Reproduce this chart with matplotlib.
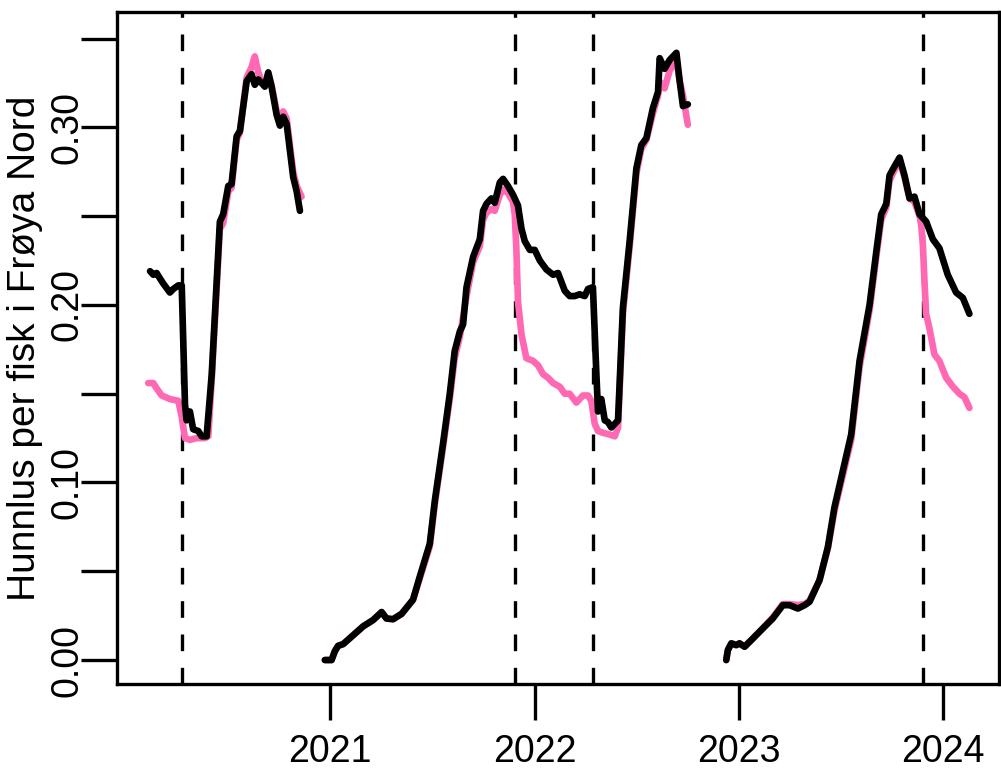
import matplotlib
matplotlib.use("Agg")
import matplotlib.pyplot as plt

plt.rcParams["font.family"] = ["Liberation Sans", "DejaVu Sans"]

# black series (decimal year, females per fish)
blk1_x = [2020.117, 2020.133, 2020.149, 2020.165, 2020.182, 2020.214, 2020.231, 2020.255,
          2020.272, 2020.288, 2020.296, 2020.312, 2020.328, 2020.353, 2020.370, 2020.394,
          2020.419, 2020.459, 2020.475, 2020.500, 2020.516, 2020.541, 2020.557, 2020.590,
          2020.614, 2020.630, 2020.647, 2020.663, 2020.679, 2020.696, 2020.712, 2020.737,
          2020.753, 2020.769, 2020.786, 2020.818, 2020.835, 2020.851]
blk1_y = [0.219, 0.217, 0.218, 0.215, 0.212, 0.207, 0.209, 0.211,
          0.211, 0.144, 0.135, 0.140, 0.130, 0.129, 0.126, 0.126,
          0.161, 0.247, 0.251, 0.267, 0.268, 0.295, 0.298, 0.326,
          0.330, 0.324, 0.327, 0.325, 0.323, 0.331, 0.323, 0.307,
          0.301, 0.306, 0.302, 0.272, 0.264, 0.253]

blk2_x = [2020.973, 2021.006, 2021.022, 2021.038, 2021.063, 2021.112, 2021.161, 2021.209,
          2021.251, 2021.275, 2021.307, 2021.349, 2021.405, 2021.438, 2021.487, 2021.512,
          2021.552, 2021.585, 2021.609, 2021.634, 2021.650, 2021.667, 2021.699, 2021.732,
          2021.748, 2021.765, 2021.789, 2021.805, 2021.830, 2021.846, 2021.870, 2021.895,
          2021.919, 2021.936, 2021.952, 2021.977, 2022.001, 2022.026, 2022.058, 2022.091,
          2022.115, 2022.148, 2022.172, 2022.197, 2022.221, 2022.246, 2022.262, 2022.286,
          2022.303, 2022.311, 2022.327, 2022.344, 2022.360, 2022.376, 2022.393, 2022.409,
          2022.433, 2022.466, 2022.499, 2022.523, 2022.548, 2022.580, 2022.605, 2022.613,
          2022.637, 2022.662, 2022.695, 2022.711, 2022.727, 2022.751]
blk2_y = [0.000, 0.000, 0.005, 0.008, 0.009, 0.014, 0.019, 0.0225,
          0.027, 0.0234, 0.023, 0.026, 0.034, 0.047, 0.0655, 0.090,
          0.122, 0.150, 0.174, 0.185, 0.189, 0.210, 0.227, 0.237,
          0.253, 0.257, 0.260, 0.2575, 0.269, 0.271, 0.267, 0.262,
          0.256, 0.243, 0.236, 0.231, 0.231, 0.225, 0.220, 0.217,
          0.218, 0.208, 0.205, 0.205, 0.206, 0.205, 0.209, 0.210,
          0.161, 0.140, 0.147, 0.135, 0.134, 0.131, 0.133, 0.135,
          0.1985, 0.236, 0.277, 0.290, 0.294, 0.311, 0.320, 0.339,
          0.333, 0.338, 0.342, 0.326, 0.312, 0.313]

blk3_x = [2022.939, 2022.947, 2022.964, 2022.988, 2023.004, 2023.029, 2023.070, 2023.118,
          2023.167, 2023.216, 2023.249, 2023.290, 2023.323, 2023.347, 2023.396, 2023.437,
          2023.469, 2023.551, 2023.592, 2023.641, 2023.674, 2023.698, 2023.723, 2023.739,
          2023.763, 2023.788, 2023.812, 2023.837, 2023.861, 2023.886, 2023.918, 2023.951,
          2023.983, 2024.024, 2024.065, 2024.098, 2024.130]
blk3_y = [0.000, 0.0056, 0.0094, 0.0084, 0.0094, 0.0075, 0.0122, 0.0178,
          0.0234, 0.0309, 0.0309, 0.029, 0.0309, 0.0328, 0.045, 0.0637,
          0.086, 0.127, 0.1685, 0.200, 0.230, 0.251, 0.257, 0.273,
          0.278, 0.283, 0.273, 0.260, 0.261, 0.251, 0.247, 0.237,
          0.232, 0.217, 0.207, 0.204, 0.195]

# pink series
pnk1_x = [2020.108, 2020.133, 2020.149, 2020.174, 2020.214, 2020.255, 2020.272, 2020.288,
          2020.312, 2020.345, 2020.386, 2020.402, 2020.419, 2020.459, 2020.475, 2020.500,
          2020.516, 2020.541, 2020.557, 2020.590, 2020.614, 2020.630, 2020.647, 2020.663,
          2020.679, 2020.696, 2020.712, 2020.737, 2020.753, 2020.769, 2020.786, 2020.818,
          2020.835, 2020.859]
pnk1_y = [0.156, 0.156, 0.153, 0.149, 0.147, 0.146, 0.137, 0.125,
          0.124, 0.125, 0.125, 0.126, 0.158, 0.243, 0.246, 0.264,
          0.266, 0.293, 0.297, 0.328, 0.334, 0.340, 0.331, 0.326,
          0.323, 0.330, 0.324, 0.309, 0.303, 0.309, 0.305, 0.275,
          0.267, 0.261]

pnk2_x = [2020.973, 2021.006, 2021.022, 2021.038, 2021.063, 2021.112, 2021.161, 2021.209,
          2021.251, 2021.275, 2021.307, 2021.349, 2021.405, 2021.438, 2021.487, 2021.512,
          2021.552, 2021.585, 2021.609, 2021.634, 2021.667, 2021.699, 2021.732, 2021.748,
          2021.765, 2021.789, 2021.805, 2021.830, 2021.846, 2021.870, 2021.895, 2021.903,
          2021.911, 2021.919, 2021.936, 2021.960, 2021.993, 2022.017, 2022.042, 2022.066,
          2022.091, 2022.123, 2022.148, 2022.172, 2022.205, 2022.237, 2022.262, 2022.278,
          2022.295, 2022.311, 2022.335, 2022.368, 2022.393, 2022.409, 2022.433, 2022.466,
          2022.499, 2022.523, 2022.548, 2022.580, 2022.605, 2022.613, 2022.637, 2022.662,
          2022.695, 2022.711, 2022.727, 2022.751]
pnk2_y = [0.000, 0.000, 0.005, 0.008, 0.009, 0.014, 0.019, 0.0225,
          0.027, 0.0234, 0.023, 0.026, 0.034, 0.046, 0.064, 0.088,
          0.120, 0.147, 0.170, 0.182, 0.205, 0.224, 0.233, 0.248,
          0.252, 0.254, 0.253, 0.262, 0.265, 0.263, 0.258, 0.251,
          0.232, 0.202, 0.1835, 0.170, 0.1685, 0.166, 0.161, 0.159,
          0.156, 0.154, 0.150, 0.150, 0.145, 0.149, 0.149, 0.146,
          0.133, 0.129, 0.128, 0.127, 0.126, 0.131, 0.195, 0.233,
          0.274, 0.288, 0.293, 0.308, 0.318, 0.326, 0.322, 0.332,
          0.338, 0.326, 0.318, 0.3015]

pnk3_x = [2022.939, 2022.947, 2022.964, 2022.988, 2023.004, 2023.029, 2023.070, 2023.118,
          2023.167, 2023.216, 2023.249, 2023.290, 2023.323, 2023.347, 2023.396, 2023.437,
          2023.469, 2023.551, 2023.592, 2023.641, 2023.674, 2023.698, 2023.723, 2023.739,
          2023.763, 2023.788, 2023.812, 2023.837, 2023.861, 2023.886, 2023.894, 2023.902,
          2023.910, 2023.918, 2023.934, 2023.959, 2023.983, 2024.016, 2024.049, 2024.081,
          2024.106, 2024.130]
pnk3_y = [0.000, 0.0056, 0.0094, 0.0084, 0.0094, 0.0075, 0.0122, 0.0178,
          0.0240, 0.0315, 0.0315, 0.031, 0.0315, 0.0335, 0.045, 0.0630,
          0.084, 0.124, 0.165, 0.197, 0.227, 0.248, 0.255, 0.270,
          0.276, 0.281, 0.272, 0.260, 0.258, 0.250, 0.245, 0.234,
          0.2135, 0.195, 0.187, 0.172, 0.1685, 0.159, 0.154, 0.150,
          0.148, 0.142]

vlines = [2020.272, 2021.903, 2022.285, 2023.901]
year_ticks = [2021, 2022, 2023, 2024]
y_ticks = [0.00, 0.05, 0.10, 0.15, 0.20, 0.25, 0.30, 0.35]
y_labels = ["0.00", "", "0.10", "", "0.20", "", "0.30", ""]
ylabel = "Hunnlus per fisk i Frøya Nord"

pink = "#FF69B4"

fig = plt.figure(figsize=(10.01, 7.69), dpi=100)
ax = fig.add_axes([117 / 1001, 85 / 769, 882 / 1001, 672 / 769])

for v in vlines:
    ax.axvline(v, color="black", lw=2.4, linestyle=(0, (5, 5)), zorder=1)

for x, y in [(pnk1_x, pnk1_y), (pnk2_x, pnk2_y), (pnk3_x, pnk3_y)]:
    ax.plot(x, y, color=pink, lw=4.8, solid_joinstyle="round", solid_capstyle="round", zorder=2)
for x, y in [(blk1_x, blk1_y), (blk2_x, blk2_y), (blk3_x, blk3_y)]:
    ax.plot(x, y, color="black", lw=4.8, solid_joinstyle="round", solid_capstyle="round", zorder=3)

ax.set_xlim(2019.955, 2024.275)
ax.set_ylim(-0.0135, 0.365)

ax.set_xticks(year_ticks)
ax.set_xticklabels([str(t) for t in year_ticks])
ax.set_yticks(y_ticks)
ax.set_yticklabels(y_labels, rotation=90, va="center")

ax.tick_params(axis="both", length=26, width=2.4, labelsize=27, color="black")
ax.tick_params(axis="x", pad=10)
ax.tick_params(axis="y", pad=-3)
for s in ax.spines.values():
    s.set_linewidth(2.4)

ax.set_ylabel(ylabel, fontsize=28, labelpad=4)

fig.savefig("out.png", dpi=100)
